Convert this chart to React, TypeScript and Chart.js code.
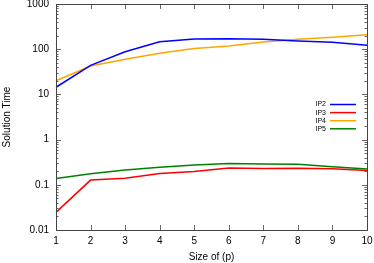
import React, { useEffect, useRef } from "react";
import { Chart, registerables } from "chart.js";

Chart.register(...registerables);

const sizes = ["1", "2", "3", "4", "5", "6", "7", "8", "9", "10"];
const ip2 = [14.4, 44, 88, 146, 168, 170, 165, 152, 142, 122];
const ip3 = [0.0245, 0.127, 0.14, 0.178, 0.196, 0.234, 0.228, 0.232, 0.226, 0.208];
const ip4 = [20, 42.5, 60, 81, 103, 118, 144, 166, 183, 209];
const ip5 = [0.138, 0.176, 0.212, 0.246, 0.274, 0.296, 0.29, 0.284, 0.25, 0.224];
const yMajor = [0.01, 0.1, 1, 10, 100, 1000];
const FONT = "'Liberation Sans', Arial, sans-serif";

const frame = {
  id: "frame",
  afterDraw(chart: any) {
    const { ctx, chartArea: a } = chart;
    const xs = chart.scales.x;
    const ys = chart.scales.y;
    ctx.save();
    ctx.strokeStyle = "#666";
    ctx.lineWidth = 1;
    ctx.beginPath();
    for (let i = 0; i < sizes.length; i++) {
      const px = Math.round(xs.getPixelForValue(i)) + 0.5;
      ctx.moveTo(px, a.bottom);
      ctx.lineTo(px, a.bottom - 5);
      ctx.moveTo(px, a.top);
      ctx.lineTo(px, a.top + 5);
    }
    for (let d = 0; d < yMajor.length; d++) {
      const v = yMajor[d];
      const py = Math.round(ys.getPixelForValue(v)) + 0.5;
      ctx.moveTo(a.left, py);
      ctx.lineTo(a.left + 5, py);
      ctx.moveTo(a.right, py);
      ctx.lineTo(a.right - 5, py);
      if (d < yMajor.length - 1) {
        for (let m = 2; m <= 9; m++) {
          const pm = Math.round(ys.getPixelForValue(v * m)) + 0.5;
          ctx.moveTo(a.left, pm);
          ctx.lineTo(a.left + 2.5, pm);
          ctx.moveTo(a.right, pm);
          ctx.lineTo(a.right - 2.5, pm);
        }
      }
    }
    ctx.stroke();
    ctx.strokeStyle = "#444";
    ctx.strokeRect(Math.round(a.left) + 0.5, Math.round(a.top) + 0.5, Math.round(a.right - a.left), Math.round(a.bottom - a.top));
    // legend
    const ds = chart.data.datasets;
    ctx.font = "7px " + FONT;
    ctx.textAlign = "right";
    ctx.textBaseline = "middle";
    ds.forEach((d: any, i: number) => {
      const y = a.top + 100.5 + i * 8.1;
      ctx.fillStyle = "#000";
      ctx.fillText(d.label, a.right - 41, y);
      ctx.strokeStyle = d.borderColor;
      ctx.lineWidth = 1.5;
      ctx.beginPath();
      ctx.moveTo(a.right - 37, y);
      ctx.lineTo(a.right - 11, y);
      ctx.stroke();
    });
    ctx.restore();
  },
};

export default function App() {
  const ref = useRef<HTMLCanvasElement>(null);
  useEffect(() => {
    document.body.style.margin = "0";
    const mk = (label: string, data: number[], color: string) => ({
      label,
      data,
      borderColor: color,
      backgroundColor: color,
      borderWidth: 1.5,
      pointRadius: 0,
      tension: 0,
    });
    const chart = new Chart(ref.current!, {
      type: "line",
      data: {
        labels: sizes,
        datasets: [
          mk("IP2", ip2, "#0000ff"),
          mk("IP3", ip3, "#ff0000"),
          mk("IP4", ip4, "#ffa500"),
          mk("IP5", ip5, "#008000"),
        ],
      },
      options: {
        animation: false,
        responsive: false,
        events: [],
        layout: { padding: { left: 0, right: 7, top: 4, bottom: 0 } },
        plugins: { legend: { display: false }, tooltip: { enabled: false } },
        scales: {
          x: {
            type: "category",
            offset: false,
            grid: { display: false, drawTicks: false },
            border: { display: false },
            ticks: { color: "#000", font: { family: FONT, size: 10 }, padding: 5, maxRotation: 0, autoSkip: false },
            title: { display: true, text: "Size of (p)", color: "#000", font: { family: FONT, size: 10 }, padding: { top: 0, bottom: 0 } },
            afterFit: (s: any) => { s.height = 33; s.paddingLeft = 0; s.paddingRight = 0; },
          },
          y: {
            type: "logarithmic",
            min: 0.01,
            max: 1000,
            grid: { display: false, drawTicks: false },
            border: { display: false },
            afterBuildTicks: (s: any) => { s.ticks = yMajor.map((v) => ({ value: v })); },
            ticks: {
              color: "#000",
              font: { family: FONT, size: 10 },
              padding: 7,
              callback: (v: any) => String(v),
            },
            title: { display: true, text: "Solution Time", color: "#000", font: { family: FONT, size: 10 }, padding: { top: 1, bottom: 0 } },
            afterFit: (s: any) => { s.width = 56; s.paddingTop = 0; s.paddingBottom = 0; },
          },
        },
      },
      plugins: [frame],
    });
    return () => chart.destroy();
  }, []);
  return (
    <div style={{ position: "fixed", left: 0, top: 0, width: 374, height: 263 }}>
      <canvas ref={ref} width={374} height={263} style={{ width: 374, height: 263 }} />
    </div>
  );
}
